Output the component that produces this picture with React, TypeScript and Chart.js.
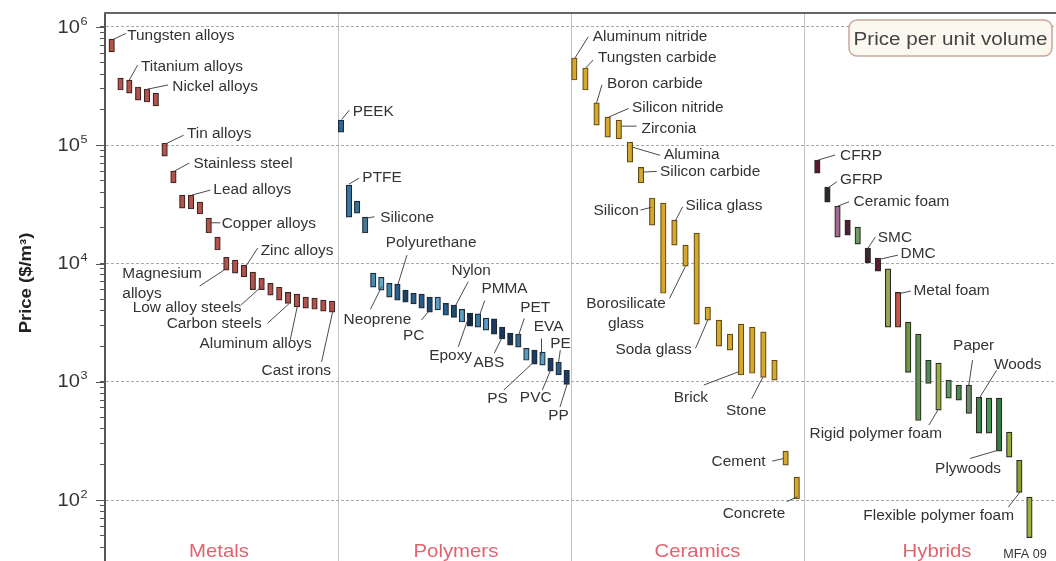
import React, { useEffect, useRef } from 'react';
import { Chart, registerables } from 'chart.js';

Chart.register(...registerables);

// ---------------- DATA ----------------
const groupNames = ['Metals', 'Polymers', 'Ceramics', 'Hybrids'];

// price per unit volume ranges [low, high] in $/m^3
const metalRanges = [
  [615000, 790000], [293000, 370000], [276000, 356000], [241000, 311000], [232000, 299000],
  [215000, 276000], [81000, 104000], [48000, 60500], [29400, 37900], [28900, 37900],
  [26200, 33100], [18100, 24200], [13000, 16700], [8800, 11300], [8300, 10700],
  [7700, 9700], [6000, 8450], [6000, 7500], [5400, 6800], [4900, 6300],
  [4600, 5700], [4300, 5500], [4200, 5200], [4100, 5100], [3950, 4900], [3880, 4800],
];

const polymerRanges = [
  [129000, 163000], [24700, 46000], [26700, 33700], [18100, 24700], [6300, 8300],
  [5950, 7650], [5200, 6800], [4900, 6700], [4700, 5950], [4550, 5600],
  [4200, 5500], [3880, 5200], [4050, 5200], [3650, 4600], [3500, 4450],
  [3200, 4100], [2950, 3800], [2900, 3750], [2730, 3450], [2530, 3400],
  [2300, 2900], [2040, 2580], [1960, 2530], [1520, 1920], [1410, 1850],
  [1380, 1780], [1230, 1580], [1140, 1470], [950, 1250],
];

const ceramicRanges = [
  [356000, 547000], [293000, 450000], [148000, 228000], [117000, 173000], [113000, 163000],
  [72000, 106000], [48000, 65000], [21100, 35800], [5600, 32400], [14300, 23300],
  [9500, 14300], [3070, 18100], [3320, 4280], [2000, 3320], [1850, 2530],
  [1140, 3070], [1180, 2900], [1090, 2640], [1030, 1520], [197, 259], [102, 156],
];

const hybridRanges = [
  [58000, 75000], [33000, 44300], [16700, 30600], [17400, 23300], [14600, 20300],
  [10100, 13500], [8600, 11100], [2900, 9000], [2900, 5700], [1200, 3200],
  [470, 2530], [970, 1520], [575, 1440], [727, 1030], [700, 936],
  [540, 936], [368, 740], [368, 727], [259, 727], [230, 375], [116, 217], [48, 106],
];

// labels: [bar index, text]
const metalLabels = [
  [0, 'Tungsten alloys'], [2, 'Titanium alloys'], [4, 'Nickel alloys'], [6, 'Tin alloys'],
  [7, 'Stainless steel'], [9, 'Lead alloys'], [11, 'Copper alloys'], [15, 'Zinc alloys'],
  [13, 'Magnesium\nalloys'], [17, 'Low alloy steels'], [20, 'Carbon steels'],
  [21, 'Aluminum alloys'], [25, 'Cast irons'],
];
const polymerLabels = [
  [0, 'PEEK'], [1, 'PTFE'], [3, 'Silicone'], [7, 'Polyurethane'], [5, 'Neoprene'], [11, 'PC'],
  [14, 'Nylon'], [17, 'PMMA'], [16, 'Epoxy'], [20, 'ABS'], [22, 'PET'], [25, 'EVA'],
  [27, 'PE'], [24, 'PS'], [26, 'PVC'], [28, 'PP'],
];
const ceramicLabels = [
  [0, 'Aluminum nitride'], [1, 'Tungsten carbide'], [2, 'Boron carbide'], [3, 'Silicon nitride'],
  [4, 'Zirconia'], [5, 'Alumina'], [6, 'Silicon carbide'], [7, 'Silicon'], [9, 'Silica glass'],
  [10, 'Borosilicate\nglass'], [12, 'Soda glass'], [15, 'Brick'], [17, 'Stone'],
  [19, 'Cement'], [20, 'Concrete'],
];
const hybridLabels = [
  [0, 'CFRP'], [1, 'GFRP'], [2, 'Ceramic foam'], [5, 'SMC'], [6, 'DMC'], [8, 'Metal foam'],
  [15, 'Paper'], [16, 'Woods'], [12, 'Rigid polymer foam'], [18, 'Plywoods'],
  [20, 'Flexible polymer foam'],
];

const yDecades = [2, 3, 4, 5, 6];
const boxTitle = 'Price per unit volume';
const yTitle = 'Price ($/m³)';
const creditText = 'MFA 09';

// ---------------- STYLE / LAYOUT ----------------
const metalFill = '#b4534b';
const ceramicFill = '#d6a92e';
const polymerFills = [
  '#2f6590', '#3b77a0', '#3f6f8f', '#4a7590', '#4a8ab2', '#6aa8c8', '#3d7fa5', '#2a5d85',
  '#1e3f66', '#2c5f8a', '#2a5a84', '#1f4a70', '#5c9cc2', '#2b5d86', '#1f4a72', '#5aa0c2',
  '#142748', '#3a7aa2', '#5b9cc2', '#1d3b62', '#1c3560', '#1c3252', '#3a6a8c', '#5c9cc0',
  '#1d3b60', '#5aa0b8', '#1d3b60', '#2b5d86', '#1d3b60',
];
const hybridFills = [
  '#5b1b2e', '#2e2a2a', '#a06a90', '#4e1f35', '#6f9c66', '#3a2530', '#5a1a35', '#98a85a',
  '#c8544a', '#6a9a45', '#5c9550', '#4e8a58', '#9ab040', '#5a9a5a', '#4a8a50', '#6a8a6a',
  '#3e8a4a', '#4a9a55', '#3a7a45', '#9aac3a', '#8aa030', '#a0b040',
];

const X_MAX = 40.815;
const Y_MIN = 30.5;
const Y_MAX = 1.313e6;
const groupSlots = [
  { start: 0.2876, step: 0.3785 },
  { start: 10.129, step: 0.3459 },
  { start: 20.142, step: 0.4773 },
  { start: 30.571, step: 0.4335 },
];
const groupLabelX = [4.89, 15.06, 25.43, 35.71];
const barX = (g: number, i: number) => groupSlots[g].start + i * groupSlots[g].step;

// label layout relative to bar anchor ('t' top / 'b' bottom): text pos, leader start, leader end
type LL = { a: string; t: number[]; s: number[]; e: number[]; al?: CanvasTextAlign; lh?: number };
const labelLayout: Record<string, LL> = {
  'Tungsten alloys': { a: 't', t: [15.5, -4], s: [1.6, 0.3], e: [14.3, -5.7] },
  'Titanium alloys': { a: 't', t: [11.6, -14], s: [0, 0], e: [8.3, -15] },
  'Nickel alloys': { a: 't', t: [25.3, -3], s: [0, 0.3], e: [21, -4] },
  'Tin alloys': { a: 't', t: [22.3, -10], s: [2.3, 0], e: [19, -8] },
  'Stainless steel': { a: 't', t: [20, -8], s: [1, 0], e: [16, -8] },
  'Lead alloys': { a: 't', t: [22.3, -6], s: [1, 0], e: [19.3, -5] },
  'Copper alloys': { a: 't', t: [13, 4.7], s: [1, 4.7], e: [11.7, 4.7] },
  'Zinc alloys': { a: 't', t: [16.7, -15], s: [0.7, 3], e: [13.7, -17] },
  'Magnesium\nalloys': { a: 'b', t: [-104, 2.7], s: [-0.7, -1], e: [-26.7, 16], lh: 20.3 },
  'Low alloy steels': { a: 'b', t: [-129, 17], s: [-0.3, -3], e: [-20.3, 15] },
  'Carbon steels': { a: 'b', t: [-121.4, 20], s: [1.3, 0], e: [-20.7, 20] },
  'Aluminum alloys': { a: 'b', t: [-97.4, 35.7], s: [0.3, 0], e: [-6.7, 33] },
  'Cast irons': { a: 'b', t: [-70.6, 58], s: [0.4, 0], e: [-10.6, 49.7] },

  'PEEK': { a: 't', t: [11.7, -9.3], s: [0.7, -0.7], e: [8.3, -10] },
  'PTFE': { a: 't', t: [13.3, -8.3], s: [0, -1], e: [10, -7] },
  'Silicone': { a: 't', t: [15, 0.3], s: [1.6, 1], e: [9.3, -0.3] },
  'Polyurethane': { a: 't', t: [-11.7, -42.3], s: [0.6, 0], e: [9.6, -29] },
  'Neoprene': { a: 'b', t: [-37.7, 29.3], s: [0.7, -4], e: [-11, 19.3] },
  'PC': { a: 'b', t: [-26.7, 23], s: [0, -2], e: [-8.3, 8] },
  'Nylon': { a: 't', t: [-2.3, -35], s: [2, 0], e: [14.3, -23.3] },
  'PMMA': { a: 't', t: [3.4, -25.7], s: [1.7, 1], e: [6.7, -13.3] },
  'Epoxy': { a: 'b', t: [-40.7, 29], s: [-1.7, -8], e: [-11.7, 20.7] },
  'ABS': { a: 'b', t: [-28.7, 22.7], s: [-0.3, -1], e: [-8, 14.3] },
  'PET': { a: 't', t: [2, -27.3], s: [0.3, 1], e: [6, -15.7] },
  'EVA': { a: 't', t: [-8.7, -26], s: [-1, 3], e: [-1, -13.7] },
  'PE': { a: 't', t: [-8.3, -19.3], s: [0, 0], e: [1.7, -12] },
  'PS': { a: 'b', t: [-47.3, 34.3], s: [-0.7, -2], e: [-30.7, 26] },
  'PVC': { a: 'b', t: [-30.7, 25.7], s: [0, -1], e: [-8.3, 19] },
  'PP': { a: 'b', t: [-18.4, 31], s: [0.6, -0.7], e: [-6.7, 22.7] },

  'Aluminum nitride': { a: 't', t: [18.4, -22], s: [0.7, 0], e: [14, -21.3] },
  'Tungsten carbide': { a: 't', t: [12.6, -10.7], s: [0.3, 0], e: [7.6, -8] },
  'Boron carbide': { a: 't', t: [10.4, -19.7], s: [0, 0], e: [5.4, -18] },
  'Silicon nitride': { a: 't', t: [24.3, -9.7], s: [1, 0], e: [21, -8.7] },
  'Zirconia': { a: 't', t: [22.7, 8.3], s: [2.7, 6], e: [17.7, 6] },
  'Alumina': { a: 't', t: [34, 12], s: [1.7, 4.7], e: [30, 13] },
  'Silicon carbide': { a: 't', t: [19, 4], s: [1.7, 4.7], e: [15.7, 4] },
  'Silicon': { a: 't', t: [-13.3, 12], s: [-0.6, 9.3], e: [-11.6, 12], al: 'right' },
  'Silica glass': { a: 't', t: [11, -15], s: [1, 0.7], e: [8.3, -13.3] },
  'Borosilicate\nglass': { a: 'b', t: [-59.5, 37.3], s: [0, 0], e: [-16, 32.3], al: 'center', lh: 19.4 },
  'Soda glass': { a: 'b', t: [-92.3, 29.3], s: [0, 0], e: [-12.3, 28.3] },
  'Brick': { a: 'b', t: [-67.3, 21.7], s: [-2.3, -3.3], e: [-37.3, 10] },
  'Stone': { a: 'b', t: [-37.3, 32.3], s: [-0.6, 0], e: [-11.6, 21.3] },
  'Cement': { a: 't', t: [-74, 10], s: [-1.7, 7.3], e: [-13.4, 10] },
  'Concrete': { a: 'b', t: [-74, 13.7], s: [0.6, -2.3], e: [-10, 2.7] },

  'CFRP': { a: 't', t: [22.7, -5], s: [1, 0], e: [17.7, -5] },
  'GFRP': { a: 't', t: [12.7, -8], s: [0.5, 1], e: [9.4, -5.3] },
  'Ceramic foam': { a: 't', t: [16, -5.3], s: [0.5, 0], e: [11.6, -4.3] },
  'SMC': { a: 't', t: [10, -10.7], s: [0, 0.3], e: [7.7, -11.3] },
  'DMC': { a: 't', t: [22.7, -4.7], s: [1, 1.3], e: [20, -3] },
  'Metal foam': { a: 't', t: [15.4, -2.7], s: [1, 1.3], e: [12.7, -1.3] },
  'Paper': { a: 't', t: [-15.7, -40], s: [0, 0], e: [3.7, -25] },
  'Woods': { a: 't', t: [15, -33.7], s: [1, 0], e: [17.7, -27] },
  'Rigid polymer foam': { a: 'b', t: [-129, 23.3], s: [-0.7, 0], e: [-9.7, 15] },
  'Plywoods': { a: 'b', t: [-64, 17.3], s: [-0.7, -1], e: [-29, 7.3] },
  'Flexible polymer foam': { a: 'b', t: [-156, 23], s: [0.7, -0.3], e: [-11, 14.7] },
};

const groups = [
  { ranges: metalRanges, labels: metalLabels, fill: metalFill, border: '#3d2522' },
  { ranges: polymerRanges, labels: polymerLabels, fill: polymerFills, border: '#1a2a3a' },
  { ranges: ceramicRanges, labels: ceramicLabels, fill: ceramicFill, border: '#5e4a14' },
  { ranges: hybridRanges, labels: hybridLabels, fill: hybridFills, border: '#2a2a22' },
];

const yTickValues: number[] = [];
for (let e = 1; e <= 6; e++) {
  for (let m = 1; m <= 9; m++) {
    const v = Number((m * Math.pow(10, e)).toPrecision(3));
    if (v >= Y_MIN && v <= Y_MAX) yTickValues.push(v);
  }
}
const isDecade = (v?: number) => {
  if (!v) return false;
  const l = Math.log10(v);
  return Math.abs(l - Math.round(l)) < 1e-9;
};

const FONT = '"Liberation Sans", Arial, Helvetica, sans-serif';

function drawText(ctx: CanvasRenderingContext2D, text: string, x: number, y: number, font: string,
  color: string, align: CanvasTextAlign = 'left', sx = 1.1) {
  ctx.save();
  ctx.font = font;
  ctx.fillStyle = color;
  ctx.textAlign = align;
  ctx.textBaseline = 'alphabetic';
  ctx.translate(x, y);
  ctx.scale(sx, 1);
  ctx.fillText(text, 0, 0);
  ctx.restore();
}

const annotationPlugin = {
  id: 'ashbyAnnotations',
  afterDraw(chart: any) {
    const ctx: CanvasRenderingContext2D = chart.ctx;
    const ca = chart.chartArea;
    const xs = chart.scales.x;
    const ys = chart.scales.y;

    ctx.save();
    // top frame line
    ctx.strokeStyle = '#666';
    ctx.lineWidth = 2;
    ctx.beginPath();
    ctx.moveTo(ca.left - 1, ca.top);
    ctx.lineTo(ca.right, ca.top);
    ctx.stroke();

    // longer major ticks
    ctx.strokeStyle = '#555';
    ctx.lineWidth = 1;
    yDecades.forEach((d) => {
      const py = Math.round(ys.getPixelForValue(Math.pow(10, d))) + 0.5;
      ctx.beginPath();
      ctx.moveTo(ca.left - 9, py);
      ctx.lineTo(ca.left, py);
      ctx.stroke();
    });

    // tick labels 10^n
    yDecades.forEach((d) => {
      const py = ys.getPixelForValue(Math.pow(10, d));
      drawText(ctx, '10', ca.left - 25, py + 5.6, `17.5px ${FONT}`, '#333', 'right', 1.15);
      drawText(ctx, String(d), ca.left - 24.5, py - 2.3, `11px ${FONT}`, '#333', 'left', 1.15);
    });

    // y axis title
    ctx.save();
    ctx.translate(25, (ca.top + ca.bottom) / 2 - 4);
    ctx.rotate(-Math.PI / 2);
    ctx.scale(1.12, 1);
    ctx.font = `bold 16.5px ${FONT}`;
    ctx.fillStyle = '#222';
    ctx.textAlign = 'center';
    ctx.textBaseline = 'alphabetic';
    ctx.fillText(yTitle, 0, 5.7);
    ctx.restore();

    // group labels
    groupNames.forEach((n, gi) => {
      drawText(ctx, n, xs.getPixelForValue(groupLabelX[gi]), ca.bottom - 4.5, `18.5px ${FONT}`, '#e0646f', 'center', 1.1);
    });

    // legend box
    const bx = ca.right - 207, by = ca.top + 7, bw = 203, bh = 36;
    ctx.beginPath();
    ctx.roundRect(bx, by, bw, bh, 8);
    ctx.fillStyle = '#fbf8ef';
    ctx.fill();
    ctx.lineWidth = 1.5;
    ctx.strokeStyle = '#c9a89a';
    ctx.stroke();
    drawText(ctx, boxTitle, bx + 4.5, by + 24.5, `18.8px ${FONT}`, '#444', 'left', 1.1);

    // material labels with leader lines
    groups.forEach((g, gi) => {
      g.labels.forEach(([idx, name]: any) => {
        const L = labelLayout[name];
        if (!L) return;
        const r = g.ranges[idx];
        const px = xs.getPixelForValue(barX(gi, idx));
        const py = ys.getPixelForValue(L.a === 't' ? r[1] : r[0]);
        ctx.strokeStyle = '#4a4a4a';
        ctx.lineWidth = 1;
        ctx.beginPath();
        ctx.moveTo(px + L.s[0], py + L.s[1]);
        ctx.lineTo(px + L.e[0], py + L.e[1]);
        ctx.stroke();
        const lines = String(name).split('\n');
        lines.forEach((ln, k) => {
          drawText(ctx, ln, px + L.t[0], py + L.t[1] + 5 + k * (L.lh || 20), `14px ${FONT}`, '#333', L.al || 'left', 1.1);
        });
      });
    });

    // credit
    drawText(ctx, creditText, ca.right - 52.7, ca.bottom - 3.5, `12px ${FONT}`, '#333', 'left', 1.05);
    ctx.restore();
  },
};

export default function App() {
  const ref = useRef<HTMLCanvasElement | null>(null);

  useEffect(() => {
    if (!ref.current) return;
    const datasets = groups.map((g, gi) => ({
      label: groupNames[gi],
      data: g.ranges.map((r, i) => ({ x: barX(gi, i), y: r })),
      backgroundColor: g.fill,
      borderColor: g.border,
      borderWidth: 1.2,
      borderSkipped: false,
      barThickness: 5.5,
      grouped: false,
    }));

    const chart = new Chart(ref.current, {
      type: 'bar',
      data: { datasets } as any,
      options: {
        animation: false,
        responsive: false,
        devicePixelRatio: 1,
        events: [],
        layout: { padding: { top: 13, left: 0, right: 0, bottom: 0 } },
        plugins: { legend: { display: false }, tooltip: { enabled: false }, title: { display: false } },
        scales: {
          x: {
            type: 'linear',
            min: 0,
            max: X_MAX,
            offset: false,
            bounds: 'data',
            afterBuildTicks: (s: any) => { s.ticks = [10, 20, 30].map((v) => ({ value: v })); },
            afterFit: (s: any) => { s.height = 0; },
            ticks: { display: false },
            grid: { display: true, color: '#c4c4c4', lineWidth: 1, drawTicks: false, offset: false },
            border: { display: false },
          },
          y: {
            type: 'logarithmic',
            min: Y_MIN,
            max: Y_MAX,
            bounds: 'data',
            afterBuildTicks: (s: any) => { s.ticks = yTickValues.map((v) => ({ value: v, major: isDecade(v) })); },
            afterFit: (s: any) => { s.width = 105; },
            ticks: { display: false },
            grid: {
              color: (c: any) => (isDecade(c.tick && c.tick.value) ? '#a9a9a9' : 'rgba(0,0,0,0)'),
              lineWidth: 1,
              drawTicks: true,
              tickLength: 5,
              tickColor: '#555',
              tickWidth: 1,
            },
            border: { display: true, color: '#555', width: 2, dash: [3, 2] },
          },
        },
      } as any,
      plugins: [annotationPlugin],
    });
    return () => chart.destroy();
  }, []);

  return (
    <div style={{ position: 'fixed', left: 0, top: 0, width: 1056, height: 561, background: '#fff' }}>
      <canvas ref={ref} width={1056} height={561} style={{ display: 'block' }} />
    </div>
  );
}
